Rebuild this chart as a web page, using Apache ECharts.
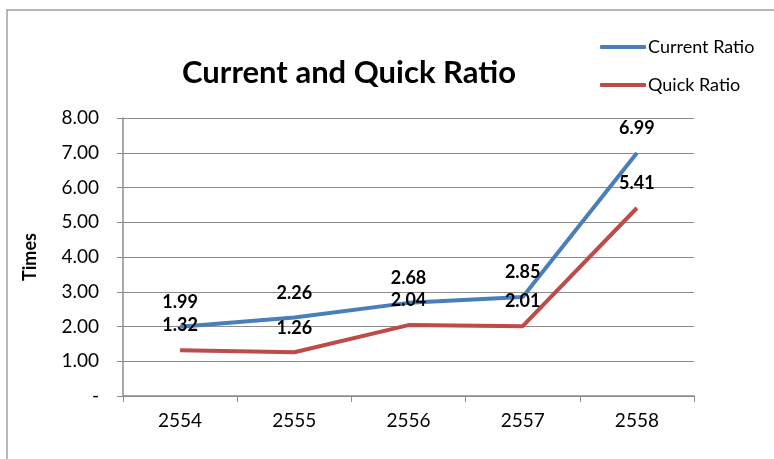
<!DOCTYPE html>
<html><head><meta charset="utf-8">
<script src="https://cdn.jsdelivr.net/npm/echarts@6/dist/echarts.min.js"></script>
<style>html,body{margin:0;padding:0;background:#fff}#c{width:774px;height:459px}</style>
</head><body><div id="c"></div>
<script>
const categories = ['2554','2555','2556','2557','2558'];
const currentRatio = [1.99, 2.26, 2.68, 2.85, 6.99];
const quickRatio = [1.32, 1.26, 2.04, 2.01, 5.41];
const seriesNames = ['Current Ratio', 'Quick Ratio'];
const FONT = 'Lato, "Open Sans", sans-serif';
const chart = echarts.init(document.getElementById('c'));
const lbl = {show:true, position:'top', distance:15, color:'#000', fontWeight:'bold', fontSize:18, fontFamily:FONT, formatter:p=>p.value.toFixed(2)};
chart.setOption({
  animation:false,
  graphic:[{type:'rect', shape:{x:7,y:10,width:800,height:500}, style:{fill:'none', stroke:'#a0a0a0', lineWidth:1.5}, z:-1}],
  title:{text:'Current and Quick Ratio', left:344, top:52, textAlign:'center',
    textStyle:{fontSize:31, fontWeight:'bold', color:'#000', fontFamily:FONT}},
  legend:{orient:'vertical', left:595, top:33, itemGap:20, itemWidth:46, itemHeight:4,
    icon:'roundRect', textStyle:{fontSize:18, color:'#000', fontFamily:FONT, padding:[0,0,0,-3]}, data:seriesNames},
  grid:{left:123, right:80, top:118, bottom:63},
  xAxis:{type:'category', data:categories, boundaryGap:true,
    axisLine:{lineStyle:{color:'#8c8c8c', width:1.5}},
    axisTick:{show:true, length:6, alignWithLabel:false, lineStyle:{color:'#8c8c8c'}},
    axisLabel:{color:'#000', fontSize:19, margin:15, fontFamily:FONT}},
  yAxis:{type:'value', min:0, max:8, interval:1, name:'Times', nameLocation:'middle', nameGap:84, nameRotate:90,
    nameTextStyle:{fontWeight:'bold', fontSize:18, color:'#000', fontFamily:FONT},
    axisLine:{show:true, lineStyle:{color:'#8c8c8c', width:1.5}},
    axisTick:{show:true, length:6, lineStyle:{color:'#8c8c8c'}},
    splitLine:{lineStyle:{color:'#8c8c8c', width:1.2}},
    axisLabel:{color:'#000', fontSize:19, margin:24, fontFamily:FONT, formatter:v=>v===0?'-':v.toFixed(2)}},
  series:[
    {name:seriesNames[0], type:'line', data:currentRatio, symbol:'circle', symbolSize:1, showSymbol:true, lineStyle:{color:'#4a7ebb', width:4}, itemStyle:{color:'#4a7ebb'}, label:lbl, z:2},
    {name:seriesNames[1], type:'line', data:quickRatio, symbol:'circle', symbolSize:1, showSymbol:true, lineStyle:{color:'#be4b48', width:4}, itemStyle:{color:'#be4b48'}, label:lbl, z:3}
  ]
});
</script></body></html>
